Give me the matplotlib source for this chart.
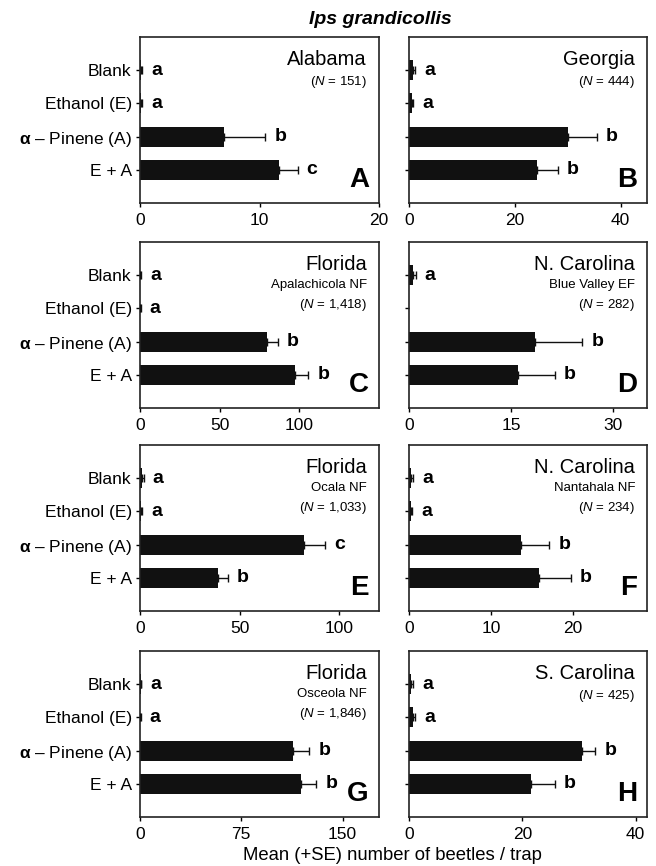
import matplotlib
matplotlib.use("Agg")
import matplotlib.pyplot as plt
import numpy as np

plt.rcParams['font.family'] = ['Liberation Sans', 'DejaVu Sans']
plt.rcParams['mathtext.fontset'] = 'custom'
plt.rcParams['mathtext.rm'] = 'Liberation Sans'
plt.rcParams['mathtext.it'] = 'Liberation Sans:italic'
plt.rcParams['mathtext.bf'] = 'Liberation Sans:bold'

title = "Ips grandicollis"
xlabel = "Mean (+SE) number of beetles / trap"
categories = ["Blank", "Ethanol (E)", r"$\mathbf{\alpha}$ – Pinene (A)", "E + A"]

panel_ids = ["A", "B", "C", "D", "E", "F", "G", "H"]
states = ["Alabama", "Georgia", "Florida", "N. Carolina", "Florida", "N. Carolina", "Florida", "S. Carolina"]
sites = [None, None, "Apalachicola NF", "Blue Valley EF", "Ocala NF", "Nantahala NF", "Osceola NF", None]
n_counts = ["151", "444", "1,418", "282", "1,033", "234", "1,846", "425"]

means_A = [0.1, 0.1, 7.0, 11.6]
se_A = [0.1, 0.1, 3.5, 1.6]
letters_A = ["a", "a", "b", "c"]

means_B = [0.7, 0.5, 30.0, 24.2]
se_B = [0.5, 0.3, 5.5, 3.9]
letters_B = ["a", "a", "b", "b"]

means_C = [0.3, 0.2, 80.0, 97.5]
se_C = [0.3, 0.2, 6.4, 8.1]
letters_C = ["a", "a", "b", "b"]

means_D = [0.6, 0.0, 18.6, 16.1]
se_D = [0.4, 0.0, 6.9, 5.4]
letters_D = ["a", "", "b", "b"]

means_E = [1.2, 0.6, 82.4, 39.2]
se_E = [0.6, 0.4, 10.6, 5.0]
letters_E = ["a", "a", "c", "b"]

means_F = [0.3, 0.2, 13.6, 15.8]
se_F = [0.2, 0.2, 3.5, 3.9]
letters_F = ["a", "a", "b", "b"]

means_G = [0.5, 0.3, 113.0, 119.5]
se_G = [0.4, 0.3, 12.5, 11.0]
letters_G = ["a", "a", "b", "b"]

means_H = [0.4, 0.7, 30.5, 21.5]
se_H = [0.3, 0.4, 2.4, 4.2]
letters_H = ["a", "a", "b", "b"]

xlims = [20, 45, 150, 35, 120, 29, 177, 42]
xticks = [[0, 10, 20], [0, 20, 40], [0, 50, 100], [0, 15, 30],
          [0, 50, 100], [0, 10, 20], [0, 75, 150], [0, 20, 40]]

all_means = [means_A, means_B, means_C, means_D, means_E, means_F, means_G, means_H]
all_se = [se_A, se_B, se_C, se_D, se_E, se_F, se_G, se_H]
all_letters = [letters_A, letters_B, letters_C, letters_D, letters_E, letters_F, letters_G, letters_H]

W, H = 656, 866
fig = plt.figure(figsize=(W / 100, H / 100), dpi=100)

col_left = [140, 409]
col_w = [239, 238]
row_top = [37, 242, 445, 651]
row_h = 166

for i in range(8):
    r, c = divmod(i, 2)
    ax = fig.add_axes([col_left[c] / W, 1 - (row_top[r] + row_h) / H, col_w[c] / W, row_h / H])
    y = np.arange(len(categories))
    means = all_means[i]
    se = all_se[i]
    ax.barh(y, means, height=0.6, color='#111111', zorder=2)
    for yi, m, s in zip(y, means, se):
        if s > 0:
            ax.errorbar([m], [yi], xerr=[[0], [s]], fmt='none', ecolor='#111111',
                        elinewidth=1.0, capsize=2.8, capthick=1.0, zorder=3)
    for yi, m, s, L in zip(y, means, se, all_letters[i]):
        if L:
            ax.annotate(L, xy=(m + s, yi), xytext=(9, 0), textcoords='offset pixels',
                        ha='left', va='center', fontsize=14, fontweight='bold')
    ax.set_xlim(0, xlims[i])
    ax.set_ylim(len(categories), -1)
    ax.set_xticks(xticks[i])
    ax.set_yticks(y)
    if c == 0:
        ax.set_yticklabels(categories, fontsize=12.5)
    else:
        ax.set_yticklabels([])
    ax.tick_params(axis='x', labelsize=12.5, length=3, width=1, direction='out', pad=4)
    ax.tick_params(axis='y', length=3, width=1, direction='out', pad=3)
    for sp in ax.spines.values():
        sp.set_linewidth(1.2)
        sp.set_color('#222222')
    ax.annotate(states[i], xy=(1, 1), xycoords='axes fraction', xytext=(-12, -13),
                textcoords='offset pixels', ha='right', va='top', fontsize=14.5)
    yoff = -37
    if sites[i]:
        ax.annotate(sites[i], xy=(1, 1), xycoords='axes fraction', xytext=(-12, yoff),
                    textcoords='offset pixels', ha='right', va='top', fontsize=9.5)
        yoff -= 18
    ax.annotate(r"($\mathit{N}$ = " + n_counts[i] + ")", xy=(1, 1), xycoords='axes fraction',
                xytext=(-12, yoff), textcoords='offset pixels', ha='right', va='top', fontsize=9.5)
    ax.annotate(panel_ids[i], xy=(1, 0), xycoords='axes fraction', xytext=(-10, 16),
                textcoords='offset pixels', ha='right', va='baseline', fontsize=20,
                fontweight='bold')

fig.text(380 / W, 1 - 20 / H, title, ha='center', va='center', fontsize=14,
         fontweight='bold', fontstyle='italic')
fig.text(392 / W, 1 - 856 / H, xlabel, ha='center', va='center', fontsize=13.3)

fig.savefig("out.png", dpi=100)
